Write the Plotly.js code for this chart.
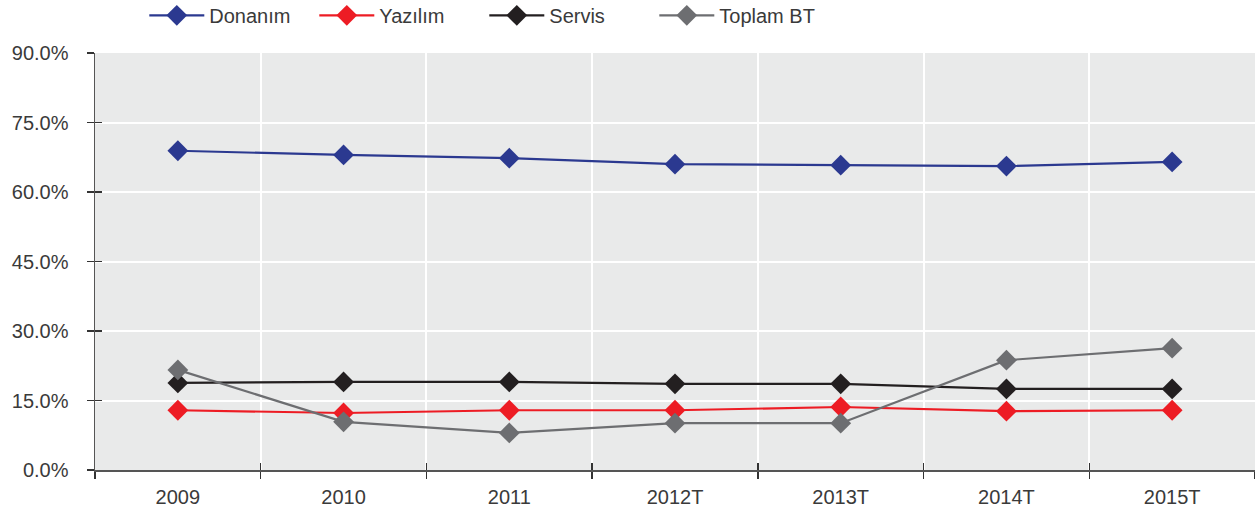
<!DOCTYPE html>
<html><head><meta charset="utf-8">
<script src="https://cdn.plot.ly/plotly-3.0.1.min.js"></script>
<style>html,body{margin:0;padding:0;background:#fff}#chart{width:1255px;height:516px}</style>
</head><body><div id="chart"></div>
<script>
const categories = ["2009","2010","2011","2012T","2013T","2014T","2015T"];
const donanim = [68.9, 68.0, 67.3, 66.0, 65.8, 65.6, 66.5];
const yazilim = [12.9, 12.3, 12.9, 12.9, 13.6, 12.7, 12.9];
const servis  = [18.8, 19.0, 19.0, 18.6, 18.6, 17.5, 17.5];
const toplamBT = [21.6, 10.4, 8.0, 10.1, 10.1, 23.7, 26.3];
const yTicks = [0, 15, 30, 45, 60, 75, 90];
const yTickText = yTicks.map(v => v.toFixed(1) + "%");

const FONT = "Liberation Sans, Arial, sans-serif";
const TXT = "#3a3a3a";
function tr(name, y, color){
  return {x: categories, y: y, name: name, type: "scatter", mode: "lines+markers",
    line: {color: color, width: 2.2}, marker: {symbol: "diamond", size: 16, color: color}};
}
const data = [
  {x: categories, y: servis, xaxis: "x2", yaxis: "y2", showlegend: false, hoverinfo: "skip",
   type: "scatter", mode: "lines", line: {width: 0, color: "rgba(0,0,0,0)"}},
  tr("Donanım", donanim, "#2b3990"),
  tr("Yazılım", yazilim, "#ed1c24"),
  tr("Servis", servis, "#231f20"),
  tr("Toplam BT", toplamBT, "#6d6e71")
];
const layout = {
  width: 1255, height: 516,
  margin: {l: 95, r: 0, t: 53, b: 46, autoexpand: false},
  paper_bgcolor: "#ffffff", plot_bgcolor: "#e9eaea",
  font: {family: FONT, size: 20, color: TXT},
  showlegend: true,
  legend: {orientation: "h", x: 0.0425, xanchor: "left", y: 1.137, yanchor: "top",
           itemwidth: 55, entrywidth: 100,
           font: {family: FONT, size: 20, color: TXT}, bgcolor: "rgba(0,0,0,0)"},
  xaxis: {type: "category", range: [-0.5, 6.5], tickson: "boundaries",
          showgrid: true, gridcolor: "#ffffff", gridwidth: 2,
          showline: true, linecolor: "#555", linewidth: 1.5,
          ticks: "outside", ticklen: 7, tickcolor: "#333", tickwidth: 1.3,
          ticklabelstandoff: 8,
          tickfont: {family: FONT, size: 20, color: TXT}, zeroline: false},
  xaxis2: {type: "category", range: [-0.5, 6.5], tickson: "boundaries", overlaying: "x",
           anchor: "y", side: "bottom", showticklabels: false, showgrid: false, zeroline: false,
           showline: false, ticks: "inside", ticklen: 7, tickcolor: "#333", tickwidth: 1.3},
  yaxis: {range: [0, 90], tickvals: yTicks, ticktext: yTickText,
          showgrid: true, gridcolor: "#ffffff", gridwidth: 2, zeroline: false,
          showline: true, linecolor: "#555", linewidth: 1.5,
          ticks: "outside", ticklen: 7, tickcolor: "#333", tickwidth: 1.3,
          ticklabelstandoff: 14,
          tickfont: {family: FONT, size: 20, color: TXT}},
  yaxis2: {range: [0, 90], tickvals: yTicks, overlaying: "y", side: "left", anchor: "x",
           showticklabels: false, showgrid: false, zeroline: false, showline: false,
           ticks: "inside", ticklen: 7, tickcolor: "#333", tickwidth: 1.3}
};
Plotly.newPlot("chart", data, layout, {displayModeBar: false, staticPlot: true});
</script></body></html>
